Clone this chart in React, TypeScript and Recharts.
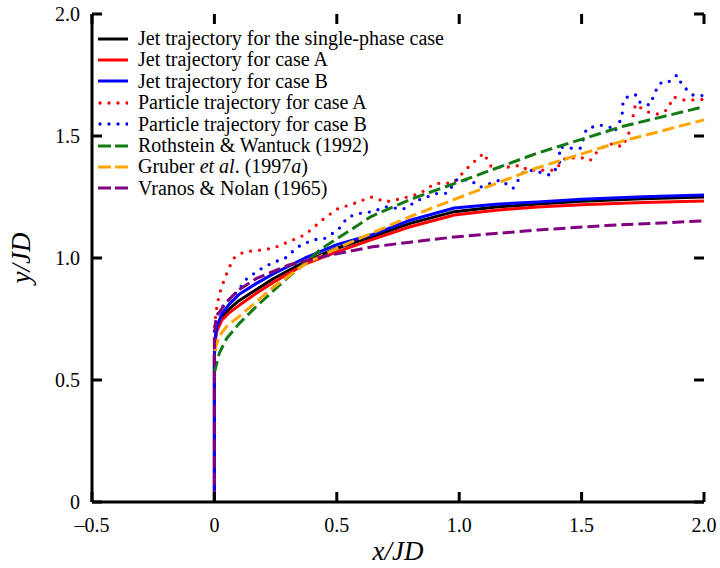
import React from "react";
import { LineChart, Line, XAxis, YAxis, Legend, Label } from "recharts";

const serif = "Liberation Serif";

// axis ticks
const xTicks = [-0.5, 0, 0.5, 1, 1.5, 2];
const xTickLabels = ["–0.5", "0", "0.5", "1.0", "1.5", "2.0"];
const yTicks = [0, 0.5, 1, 1.5, 2];
const yTickLabels = ["0", "0.5", "1.0", "1.5", "2.0"];

// jet trajectories (shared x samples)
const jetX = [0, 0, 0.003, 0.01, 0.03, 0.06, 0.1, 0.17, 0.24, 0.37, 0.5, 0.64, 0.8, 0.98, 1.15, 1.32, 1.5, 1.75, 2.0];
const jetSingleY = [0, 0.6, 0.665, 0.71, 0.755, 0.79, 0.825, 0.87, 0.915, 0.985, 1.04, 1.086, 1.142, 1.19, 1.209, 1.221, 1.233, 1.243, 1.25];
const jetAY = [0, 0.6, 0.66, 0.7, 0.745, 0.775, 0.805, 0.855, 0.9, 0.975, 1.025, 1.074, 1.128, 1.176, 1.196, 1.209, 1.218, 1.227, 1.234];
const jetBY = [0, 0.6, 0.67, 0.72, 0.77, 0.81, 0.85, 0.895, 0.935, 1.0, 1.055, 1.094, 1.155, 1.205, 1.22, 1.23, 1.241, 1.251, 1.258];

// particle trajectories
const partAX = [0, 0.01, 0.02, 0.04, 0.06, 0.08, 0.12, 0.17, 0.24, 0.3, 0.37, 0.44, 0.5, 0.575, 0.64, 0.7, 0.77, 0.84, 0.9, 0.975, 1.045, 1.1, 1.13, 1.18, 1.25, 1.28, 1.345, 1.39, 1.435, 1.505, 1.535, 1.575, 1.63, 1.665, 1.69, 1.71, 1.72, 1.765, 1.81, 1.85, 1.875, 1.915, 1.955, 2.0];
const partAY = [0.72, 0.8, 0.85, 0.91, 0.96, 1.0, 1.025, 1.03, 1.04, 1.065, 1.095, 1.155, 1.2, 1.225, 1.25, 1.23, 1.245, 1.265, 1.305, 1.307, 1.38, 1.43, 1.375, 1.37, 1.38, 1.36, 1.36, 1.36, 1.41, 1.41, 1.4, 1.45, 1.47, 1.455, 1.5, 1.58, 1.63, 1.6, 1.59, 1.607, 1.66, 1.648, 1.648, 1.65];
const partBX = [0, 0.015, 0.04, 0.073, 0.1, 0.126, 0.18, 0.236, 0.29, 0.34, 0.4, 0.45, 0.505, 0.545, 0.6, 0.648, 0.7, 0.77, 0.84, 0.91, 0.95, 0.99, 1.045, 1.085, 1.167, 1.22, 1.26, 1.3, 1.37, 1.41, 1.41, 1.45, 1.495, 1.52, 1.575, 1.615, 1.635, 1.665, 1.67, 1.7, 1.725, 1.74, 1.78, 1.8, 1.82, 1.85, 1.89, 1.91, 1.93, 1.955, 2.0];
const partBY = [0.7, 0.775, 0.81, 0.84, 0.87, 0.91, 0.95, 0.98, 1.0, 1.045, 1.074, 1.08, 1.115, 1.168, 1.184, 1.19, 1.21, 1.2, 1.24, 1.265, 1.265, 1.32, 1.32, 1.29, 1.32, 1.285, 1.35, 1.36, 1.34, 1.38, 1.455, 1.45, 1.45, 1.53, 1.545, 1.537, 1.517, 1.578, 1.648, 1.668, 1.668, 1.635, 1.627, 1.68, 1.717, 1.717, 1.75, 1.71, 1.69, 1.668, 1.665];

// correlations
const rothX = [0, 0.02, 0.05, 0.1, 0.17, 0.3, 0.44, 0.58, 0.64, 0.8, 0.98, 1.32, 1.67, 2.0];
const rothY = [0.53, 0.61, 0.67, 0.73, 0.8, 0.92, 1.04, 1.13, 1.17, 1.24, 1.305, 1.43, 1.54, 1.62];
const gruberX = [0, 0.02, 0.05, 0.1, 0.24, 0.37, 0.5, 0.64, 0.8, 0.98, 1.32, 1.67, 2.0];
const gruberY = [0.62, 0.68, 0.72, 0.76, 0.88, 0.975, 1.04, 1.1, 1.17, 1.24, 1.37, 1.48, 1.566];
const vranosX = [0, 0, 0.005, 0.015, 0.05, 0.1, 0.17, 0.3, 0.44, 0.64, 0.8, 0.98, 1.32, 1.6, 2.0];
const vranosY = [0, 0.68, 0.74, 0.77, 0.82, 0.87, 0.915, 0.97, 1.005, 1.045, 1.065, 1.086, 1.115, 1.133, 1.152];

const pts = (xs: number[], ys: number[]) => xs.map((x, i) => ({ x, y: ys[i] }));

const DASH = "12 5";
const DOT = "0 9";

const series = [
  { key: "single", name: "Jet trajectory for the single-phase case", data: pts(jetX, jetSingleY), color: "#000000", dash: undefined },
  { key: "jetA", name: "Jet trajectory for case A", data: pts(jetX, jetAY), color: "#ff0000", dash: undefined },
  { key: "jetB", name: "Jet trajectory for case B", data: pts(jetX, jetBY), color: "#0000ff", dash: undefined },
  { key: "partA", name: "Particle trajectory for case A", data: pts(partAX, partAY), color: "#ff0000", dash: DOT },
  { key: "partB", name: "Particle trajectory for case B", data: pts(partBX, partBY), color: "#0000ff", dash: DOT },
  { key: "roth", name: "Rothstein & Wantuck (1992)", data: pts(rothX, rothY), color: "#157a15", dash: DASH },
  { key: "gruber", name: "Gruber et al. (1997a)", data: pts(gruberX, gruberY), color: "#ffa500", dash: DASH },
  { key: "vranos", name: "Vranos & Nolan (1965)", data: pts(vranosX, vranosY), color: "#800080", dash: DASH },
];

// chart box
const W = 720;
const H = 568;
const MARGIN = { top: 14, right: 16, bottom: 0, left: 0 };
const X_AXIS_H = 66;
const Y_AXIS_W = 92;
const PLOT_W = W - MARGIN.left - MARGIN.right - Y_AXIS_W;
const PLOT_H = H - MARGIN.top - MARGIN.bottom - X_AXIS_H;

const legendLabel = (key: string, name: string) => {
  if (key === "gruber") {
    return (
      <>
        Gruber <i>et al</i>. (1997<i>a</i>)
      </>
    );
  }
  return name;
};

const renderLegend = () => (
  <div style={{ fontFamily: serif, fontSize: 20, color: "#000" }}>
    {series.map((s) => (
      <div key={s.key} style={{ display: "flex", alignItems: "center", height: 21.4, whiteSpace: "nowrap" }}>
        <svg width={30} height={8} style={{ display: "block" }}>
          <line
            x1={s.dash === DOT ? 2 : 0}
            y1={4}
            x2={30}
            y2={4}
            stroke={s.color}
            strokeWidth={s.dash === DOT ? 3.3 : 3}
            strokeDasharray={s.dash === DASH ? "13 4" : s.dash}
            strokeLinecap={s.dash === DOT ? "round" : "butt"}
          />
        </svg>
        <span style={{ marginLeft: 10, lineHeight: "21.4px" }}>{legendLabel(s.key, s.name)}</span>
      </div>
    ))}
  </div>
);

const TICK_LEN = 10;

// inward ticks on bottom + matching ones on the top frame edge
const BottomTick = ({ x, y, payload }: any) => (
  <g>
    <line x1={x} y1={y} x2={x} y2={y - TICK_LEN} stroke="#000" strokeWidth={3} />
    <line x1={x} y1={y - PLOT_H} x2={x} y2={y - PLOT_H + TICK_LEN} stroke="#000" strokeWidth={3} />
    <text x={x} y={y + 30} textAnchor="middle" fontSize={20} fontFamily={serif} fill="#000">
      {xTickLabels[xTicks.indexOf(payload.value)]}
    </text>
  </g>
);

// inward ticks on left + matching ones on the right frame edge
const LeftTick = ({ x, y, payload }: any) => (
  <g>
    <line x1={x} y1={y} x2={x + TICK_LEN} y2={y} stroke="#000" strokeWidth={3} />
    <line x1={x + PLOT_W} y1={y} x2={x + PLOT_W - TICK_LEN} y2={y} stroke="#000" strokeWidth={3} />
    <text x={x - 12} y={y + 7} textAnchor="end" fontSize={20} fontFamily={serif} fill="#000">
      {yTickLabels[yTicks.indexOf(payload.value)]}
    </text>
  </g>
);

const XTitle = ({ viewBox }: any) => (
  <text
    x={viewBox.x + viewBox.width / 2}
    y={viewBox.y + 58}
    textAnchor="middle"
    fontSize={27}
    fontStyle="italic"
    fontFamily={serif}
    fill="#000"
  >
    x/JD
  </text>
);

const YTitle = ({ viewBox }: any) => {
  const cx = 21;
  const cy = viewBox.y + viewBox.height / 2;
  return (
    <text
      x={cx}
      y={cy}
      transform={`rotate(-90 ${cx} ${cy})`}
      textAnchor="middle"
      dominantBaseline="central"
      fontSize={27}
      fontStyle="italic"
      fontFamily={serif}
      fill="#000"
    >
      y/JD
    </text>
  );
};

const axisLine = { stroke: "#000", strokeWidth: 3 };

export default function App() {
  return (
    <div style={{ position: "absolute", left: 0, top: 0, background: "#fff" }}>
      <LineChart width={W} height={H} margin={MARGIN}>
        <XAxis
          xAxisId={0}
          type="number"
          dataKey="x"
          domain={[-0.5, 2]}
          ticks={xTicks}
          height={X_AXIS_H}
          tickSize={0}
          tickMargin={0}
          tickLine={false}
          axisLine={axisLine}
          tick={<BottomTick />}
        >
          <Label content={<XTitle />} />
        </XAxis>
        <XAxis
          xAxisId="top"
          orientation="top"
          type="number"
          dataKey="x"
          domain={[-0.5, 2]}
          height={0}
          tickLine={false}
          axisLine={axisLine}
          tick={false}
        />
        <YAxis
          yAxisId={0}
          type="number"
          dataKey="y"
          domain={[0, 2]}
          ticks={yTicks}
          width={Y_AXIS_W}
          tickSize={0}
          tickMargin={0}
          tickLine={false}
          axisLine={axisLine}
          tick={<LeftTick />}
        >
          <Label content={<YTitle />} />
        </YAxis>
        <YAxis
          yAxisId="right"
          orientation="right"
          type="number"
          dataKey="y"
          domain={[0, 2]}
          width={0}
          tickLine={false}
          axisLine={axisLine}
          tick={false}
        />
        <Legend
          layout="horizontal"
          verticalAlign="middle"
          align="center"
          content={renderLegend}
          wrapperStyle={{ left: 98, top: 28, width: 440, height: 172 }}
        />
        {series.map((s) => (
          <Line
            key={s.key}
            data={s.data}
            dataKey="y"
            name={s.name}
            type="linear"
            stroke={s.color}
            strokeWidth={s.dash === DOT ? 3.3 : 3}
            strokeDasharray={s.dash}
            strokeLinecap={s.dash === DOT ? "round" : "butt"}
            strokeLinejoin="round"
            dot={false}
            activeDot={false}
            isAnimationActive={false}
          />
        ))}
      </LineChart>
    </div>
  );
}
